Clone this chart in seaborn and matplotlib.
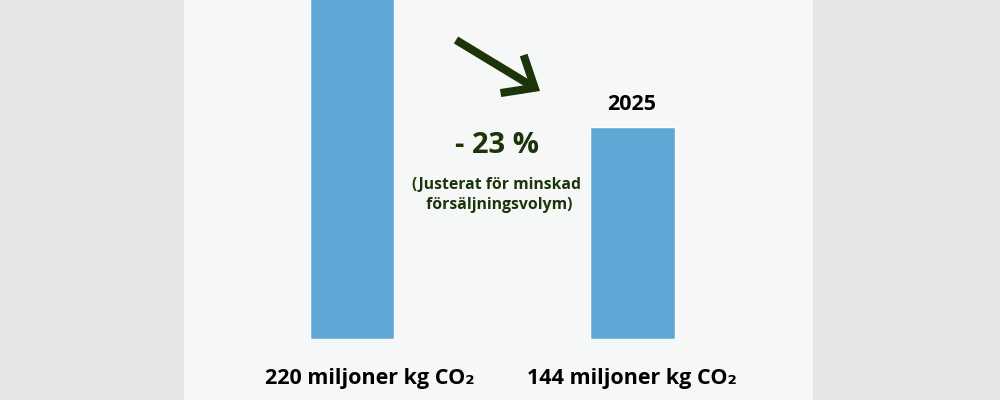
import matplotlib
matplotlib.use("Agg")
import matplotlib.pyplot as plt
from matplotlib.patches import Rectangle
import pandas as pd
import seaborn as sns

categories = ["2019", "2025"]
# The first bar runs past the top of the picture, so its drawn height is an estimate
values = [240, 144]
bar_labels = ["220 miljoner kg CO₂", "144 miljoner kg CO₂"]
change_text = "- 23 %"
note_text = "(Justerat för minskad\n försäljningsvolym)"

BLUE = "#5fa8d6"
GREEN = "#1c3409"
PANEL = "#f6f8f8"
OUTER = "#e5e5e5"

sns.set_theme(style="white")
plt.rcParams["font.family"] = ["Open Sans", "DejaVu Sans"]

W, H = 1000, 400
fig = plt.figure(figsize=(W / 100, H / 100), dpi=100, facecolor=OUTER)
fig.add_artist(Rectangle((184 / W, 0), 629 / W, 1, transform=fig.transFigure,
                         facecolor=PANEL, edgecolor="none", zorder=-5))

ax = fig.add_axes([184 / W, 61 / H, 629 / W, 339 / H])
ax.patch.set_alpha(0)
df = pd.DataFrame({"year": categories, "value": values})
sns.barplot(data=df, x="year", y="value", color=BLUE, saturation=1, width=0.303, ax=ax)
ax.set_xlim(-0.6, 1.646)
ax.set_ylim(0, 144 * 339 / 212)
ax.set_xlabel("")
ax.set_ylabel("")
ax.set_yticks([])
# The left caption sits a little to the right of its bar in the reference
ax.set_xticks([0.064, 1], bar_labels)
ax.tick_params(axis="x", length=0, pad=21, labelsize=15.5, labelcolor="black")
for lab in ax.get_xticklabels():
    lab.set_fontweight("bold")
sns.despine(ax=ax, left=True, bottom=True, top=True, right=True)

ax.annotate(categories[1], (1, values[1]), xytext=(0, 8.5), textcoords="offset points",
            ha="center", va="bottom", fontsize=15.5, fontweight="bold", color="black")

fig.text(497 / W, 1 - 145 / H, change_text, ha="center", va="center",
         fontsize=21, fontweight="bold", color=GREEN)
fig.text(497 / W, 1 - 195 / H, note_text, ha="center", va="center",
         fontsize=11.3, fontweight="bold", color=GREEN, linespacing=1.3)

ax.annotate("", xy=(540 / W, 1 - 91 / H), xytext=(456 / W, 1 - 40 / H),
            xycoords="figure fraction", textcoords="figure fraction",
            arrowprops=dict(arrowstyle="->,head_length=19,head_width=16", mutation_scale=1,
                            color=GREEN, lw=5.8, shrinkA=0, shrinkB=0,
                            joinstyle="miter", capstyle="butt"))

fig.savefig("out.png", dpi=100, facecolor=OUTER)
